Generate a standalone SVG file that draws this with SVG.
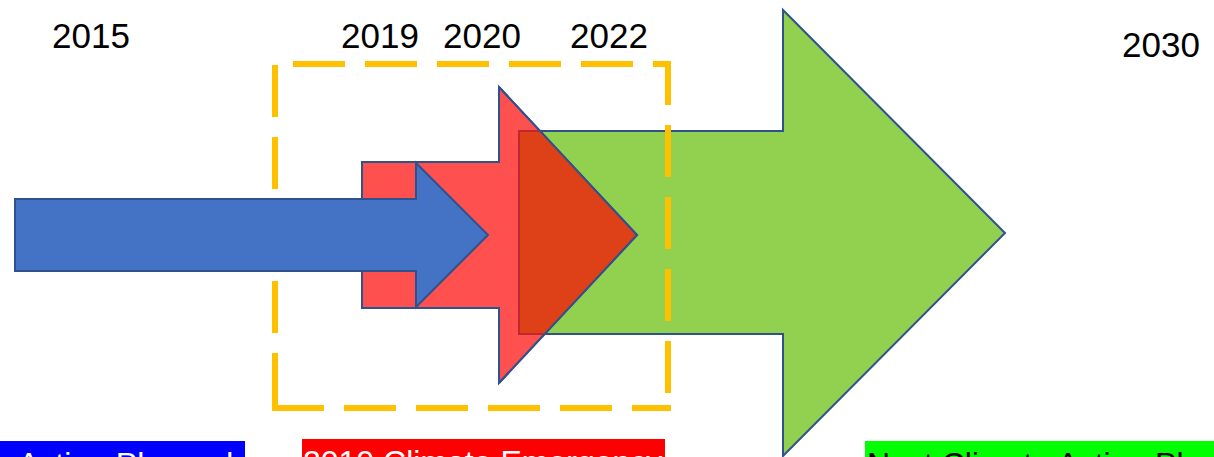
<svg xmlns="http://www.w3.org/2000/svg" width="1214" height="457" viewBox="0 0 1214 457">
<style>
.yr{font-family:"Liberation Sans",Arial,sans-serif;font-size:35px;fill:#000}
.lbl{font-family:"Liberation Sans",Arial,sans-serif;font-size:32px}
.arrow{stroke:#2F528F;stroke-width:2;stroke-linejoin:miter}
.dash{stroke:#FFC000;stroke-width:6;fill:none;stroke-dasharray:52 20}
</style>
<rect width="1214" height="457" fill="#FFFFFF"/>
<g id="green-arrow">
<polygon class="arrow" fill="#92D050" points="519,131 783,131 783,10 1005,233 783,456 783,334 519,334"/>
</g>
<g id="red-arrow">
<polygon class="arrow" fill="#FF5050" points="362,162 499,162 499,87 637,235 499,383 499,308 362,308"/>
<polygon fill="#DE4017" points="519,131 540,131 637,235 545,334 519,334"/>
<path d="M540,131 L519,131 L519,334 L545,334" fill="none" stroke="#C0282D" stroke-width="2"/>
<polyline fill="none" class="arrow" points="499,87 637,235 499,383"/>
</g>
<g id="dashed-box">
<line class="dash" x1="293" y1="64" x2="671" y2="64" stroke-dasharray="52 21"/>
<line class="dash" x1="668" y1="61" x2="668" y2="411" stroke-dashoffset="8"/>
<line class="dash" x1="275" y1="65" x2="275" y2="411"/>
<line class="dash" x1="272" y1="408" x2="671" y2="408"/>
</g>
<g id="blue-arrow">
<polygon class="arrow" fill="#4472C4" points="15,199 416,199 416,163 488,235 416,307 416,271 15,271"/>
</g>
<g id="years">
<text class="yr" x="52" y="48">2015</text>
<text class="yr" x="341" y="48">2019</text>
<text class="yr" x="443" y="48">2020</text>
<text class="yr" x="570" y="48">2022</text>
<text class="yr" x="1122" y="57">2030</text>
</g>
<g id="label-action-planned">
<rect x="0" y="441" width="245" height="16" fill="#0000FF"/>
<text class="lbl" x="18" y="475" fill="#FFFFFF">Action Planned</text>
</g>
<g id="label-climate-emergency">
<rect x="302" y="439" width="363" height="18" fill="#FF0000"/>
<text class="lbl" x="303" y="473" fill="#FFFFFF">2019 Climate Emergency</text>
</g>
<g id="label-next-plan">
<rect x="865" y="441" width="349" height="16" fill="#00FF00"/>
<text class="lbl" x="867" y="475" fill="#000000">Next Climate Action Plan</text>
</g>
</svg>
